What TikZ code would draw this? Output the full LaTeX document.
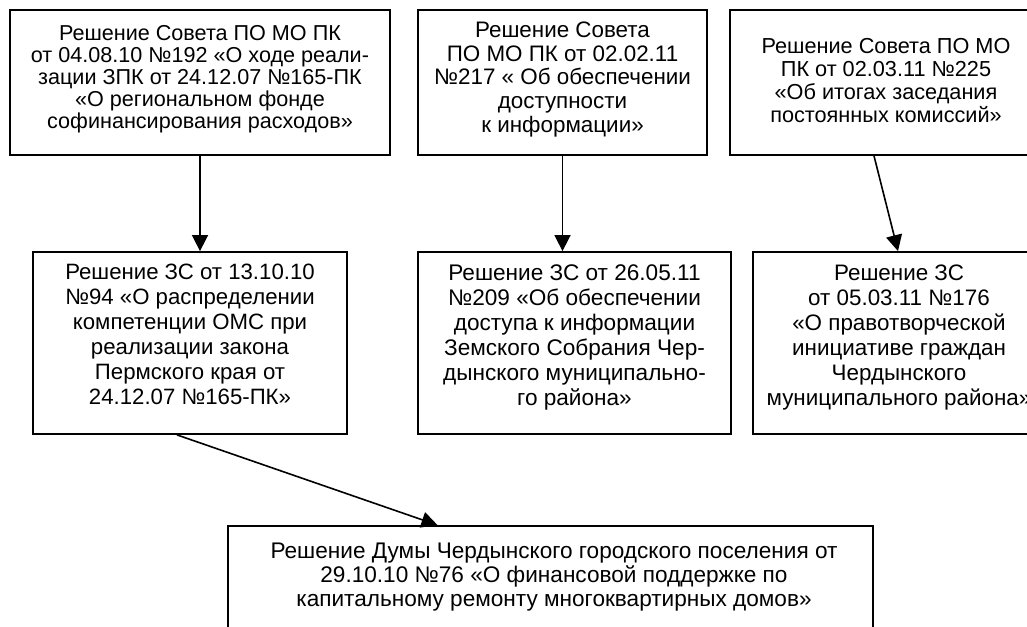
\documentclass[tikz,border=0pt]{standalone}
\usepackage{fontspec}
\setmainfont{Liberation Sans}
\usetikzlibrary{arrows.meta,calc}
\begin{document}
\begin{tikzpicture}[x=1pt,y=-1pt,
  box/.style={draw, line width=1.8pt, inner sep=0pt},
  txt/.style 2 args={align=center, inner sep=0pt, font=\fontsize{#1}{#2}\selectfont},
  arr/.style={line width=1.6pt, -{Triangle[width=16pt,length=16pt]}}]
\useasboundingbox (0,0) rectangle (1027,626);
\clip (0,0) rectangle (1027,626);
% boxes
\node[box, minimum width=380pt, minimum height=145pt] (b1) at (200,82.5) {};
\node[box, minimum width=289pt, minimum height=145pt] (b2) at (562.5,82.5) {};
\node[box, minimum width=312pt, minimum height=145pt] (b3) at (886,82.5) {};
\node[box, minimum width=314pt, minimum height=182pt] (b4) at (190,343) {};
\node[box, minimum width=313pt, minimum height=182pt] (b5) at (574.5,343) {};
\node[box, minimum width=290pt, minimum height=182pt] (b6) at (898,343) {};
\node[box, minimum width=645pt, minimum height=134pt] (b7) at (550.5,593) {};
% texts
\node[txt={21.6}{22}] (t1) at (200,79.5) {Решение Совета ПО МО ПК\\от 04.08.10 №192 «О ходе реали-\\зации ЗПК от 24.12.07 №165-ПК\\«О региональном фонде\\софинансирования расходов»};
\node[txt={22.4}{23.7}] (t2) at (562.5,79.5) {Решение Совета\\ПО МО ПК от 02.02.11\\№217 « Об обеспечении\\доступности\\к информации»};
\node[txt={21.7}{23}] (t3) at (886,81) {Решение Совета ПО МО\\ПК от 02.03.11 №225\\«Об итогах заседания\\постоянных комиссий»};
\node[txt={22.2}{25}] (t4) at (190,334) {Решение ЗС от 13.10.10\\№94 «О распределении\\компетенции ОМС при\\реализации закона\\Пермского края от\\24.12.07 №165-ПК»};
\node[txt={22.6}{25}] (t5) at (574.5,337) {Решение ЗС от 26.05.11\\№209 «Об обеспечении\\доступа к информации\\Земского Собрания Чер-\\дынского муниципально-\\го района»};
\node[txt={22.4}{25}] (t6) at (899,337) {Решение ЗС\\от 05.03.11 №176\\«О правотворческой\\инициативе граждан\\Чердынского\\муниципального района»};
\node[txt={22.6}{24}] (t7) at (554,577) {Решение Думы Чердынского городского поселения от\\29.10.10 №76 «О финансовой поддержке по\\капитальному ремонту многоквартирных домов»};
% connectors
\draw[arr] (b1.south) -- (b1.south |- b4.north);
\draw[arr] (b2.south) -- (b2.south |- b5.north);
\draw[arr] ($(b3.south)+(-12,0)$) -- (b6.north);
\draw[arr] ($(b4.south)+(-13,0)$) -- ($(b7.north)+(-113,0)$);
\end{tikzpicture}
\end{document}
